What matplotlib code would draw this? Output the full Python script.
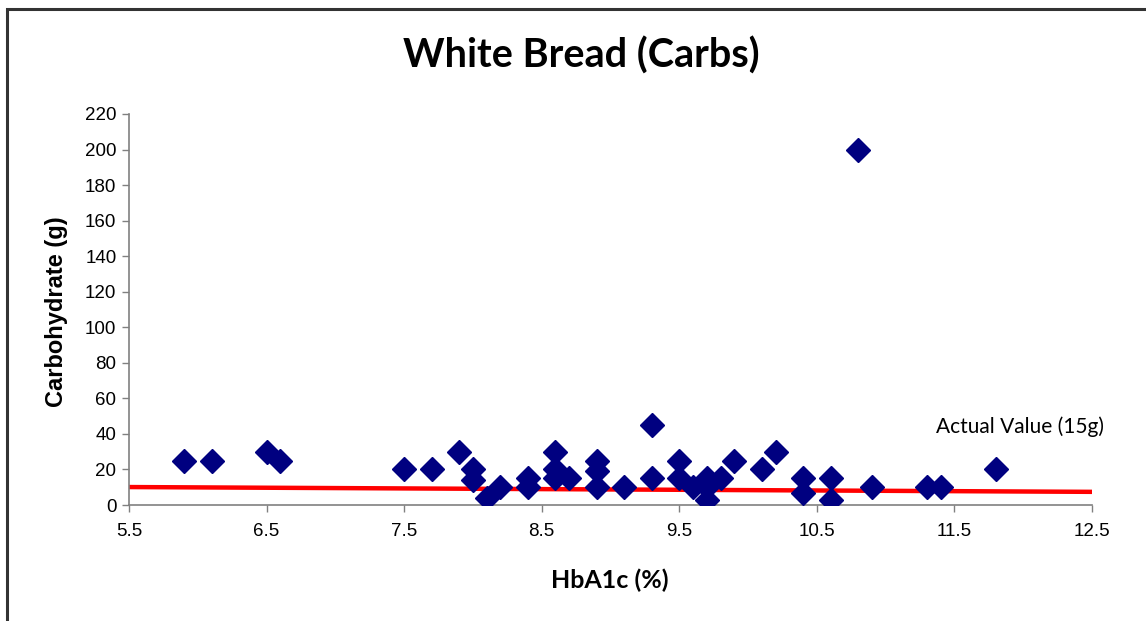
import matplotlib
matplotlib.use("Agg")
import matplotlib.pyplot as plt
from matplotlib.patches import Rectangle

# HbA1c (%) vs estimated carbohydrate (g) for white bread
hba1c = [5.9, 6.1, 6.5, 6.6, 7.5, 7.7, 7.9, 8.0, 8.0, 8.1,
         8.2, 8.4, 8.4, 8.6, 8.6, 8.6, 8.7, 8.9, 8.9, 8.9,
         9.1, 9.3, 9.3, 9.5, 9.5, 9.6, 9.7, 9.7, 9.7, 9.8,
         9.9, 10.1, 10.2, 10.4, 10.4, 10.6, 10.6, 10.8, 10.9, 11.3,
         11.4, 11.8]
carbs = [25, 25, 30, 25, 20, 20, 30, 20, 14, 4,
         10, 15, 10, 30, 20, 15, 15, 25, 19, 10,
         10, 45, 15, 25, 15, 10, 15, 10, 3, 15,
         25, 20, 30, 15, 7, 15, 3, 200, 10, 10,
         10, 20]

# linear trend line
trend_x = [5.5, 12.5]
trend_y = [10.1, 7.4]

x_ticks = [5.5, 6.5, 7.5, 8.5, 9.5, 10.5, 11.5, 12.5]
y_ticks = list(range(0, 221, 20))

W, H = 1146, 621
fig = plt.figure(figsize=(W / 100, H / 100), dpi=100)

# outer chart frame (cut off at right and bottom)
fig.patches.append(Rectangle((7 / W, -0.05), 1.2, 1 - 9 / H + 0.05,
                             transform=fig.transFigure, fill=False,
                             edgecolor="#333333", linewidth=2.2))

ax = fig.add_axes([129 / W, 1 - 505 / H, (1092 - 129) / W, (505 - 114) / H])

ax.plot(trend_x, trend_y, color="#FF0000", linewidth=3.2, solid_capstyle="butt", zorder=2)
ax.plot(hba1c, carbs, linestyle="none", marker="D", markersize=12.5,
        color="#000080", markeredgecolor="#000080", zorder=3)

ax.set_xlim(5.5, 12.5)
ax.set_ylim(0, 220)
ax.set_xticks(x_ticks)
ax.set_xticklabels([f"{v:.1f}" for v in x_ticks])
ax.set_yticks(y_ticks)

for side in ["top", "right"]:
    ax.spines[side].set_visible(False)
for side in ["left", "bottom"]:
    ax.spines[side].set_color("#808080")
    ax.spines[side].set_linewidth(1.2)

ax.tick_params(axis="both", direction="out", length=5, width=1, color="#808080",
               labelsize=13.5, pad=4)
for lab in ax.get_xticklabels() + ax.get_yticklabels():
    lab.set_family("Liberation Sans")
ax.tick_params(axis="x", pad=8)

fig.text(581 / W, 1 - 56 / H, "White Bread (Carbs)", ha="center", va="center",
         fontsize=28.5, fontweight="bold", family="Lato")
fig.text(610 / W, 1 - 580 / H, "HbA1c (%)", ha="center", va="center",
         fontsize=18, fontweight="bold", family="Lato")
fig.text(57 / W, 1 - 312 / H, "Carbohydrate (g)", ha="center", va="center",
         rotation=90, fontsize=17, fontweight="bold", family="Liberation Sans")
fig.text(1020 / W, 1 - 427 / H, "Actual Value (15g)", ha="center", va="center",
         fontsize=15, family="Lato")

fig.savefig("out.png", dpi=100, facecolor="white")
